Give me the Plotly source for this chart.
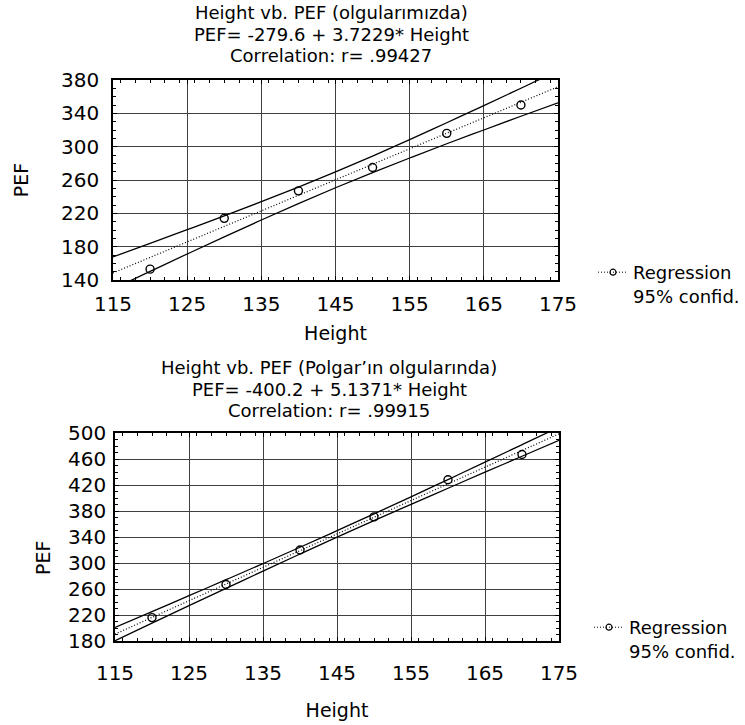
import plotly.graph_objects as go

# ---- data ----
height = [120, 130, 140, 150, 160, 170]
pef_ours = [153, 214, 247, 275, 316, 350]
pef_polgar = [216, 267, 320, 371, 428, 467]

band_x = [115, 120, 125, 130, 135, 140, 145, 150, 155, 160, 165, 170, 175]
fit_ours = [148.5, 167.2, 185.8, 204.4, 223.0, 241.6, 260.2, 278.8, 297.4, 316.1, 334.6, 353.3, 371.9]
upper_ours = [167.7, 184.0, 200.4, 217.0, 234.0, 251.5, 269.7, 288.7, 308.4, 328.7, 349.2, 370.1, 391.1]
lower_ours = [129.3, 150.3, 171.2, 191.8, 212.0, 231.7, 250.7, 268.9, 286.4, 303.5, 320.0, 336.5, 352.7]

fit_polgar = [190.6, 216.3, 242.0, 267.6, 293.3, 319.0, 344.7, 370.4, 396.0, 421.7, 447.4, 473.1, 498.8]
upper_polgar = [200.8, 225.2, 249.7, 274.3, 299.1, 324.2, 349.7, 375.6, 401.8, 428.4, 455.1, 482.0, 509.0]
lower_polgar = [180.4, 207.4, 234.3, 260.9, 287.5, 313.8, 339.7, 365.2, 390.2, 415.0, 439.7, 464.2, 488.6]

titles_top = ["Height vb. PEF (olgularımızda)", "PEF= -279.6 + 3.7229* Height", "Correlation: r= .99427"]
titles_bot = ["Height vb. PEF (Polgar\u2019ın olgularında)", "PEF= -400.2 + 5.1371* Height", "Correlation: r= .99915"]
legend_label = "Regression<br>95% confid."

W, H = 745, 725
FONT = "DejaVu Sans"


def px(x):
    return x / W


def py(y):
    return 1 - y / H


fig = go.Figure()


def add_panel(xa, ya, fit, up, lo, yvals, legend_id):
    fig.add_trace(go.Scatter(x=band_x, y=up, mode="lines", line=dict(color="black", width=1.3, shape="spline"),
                             xaxis=xa, yaxis=ya, showlegend=False, hoverinfo="skip"))
    fig.add_trace(go.Scatter(x=band_x, y=lo, mode="lines", line=dict(color="black", width=1.3, shape="spline"),
                             xaxis=xa, yaxis=ya, showlegend=False, hoverinfo="skip"))
    fig.add_trace(go.Scatter(x=band_x, y=fit, mode="lines", line=dict(color="black", width=1.2, dash="1px,2px"),
                             xaxis=xa, yaxis=ya, showlegend=False))
    fig.add_trace(go.Scatter(x=height, y=yvals, mode="markers",
                             marker=dict(symbol="circle-open", size=8, color="black", line=dict(width=1.4)),
                             xaxis=xa, yaxis=ya, showlegend=False))
    fig.add_trace(go.Scatter(x=[None], y=[None], mode="lines+markers", name=legend_label,
                             line=dict(color="black", width=1, dash="1px,2px"),
                             marker=dict(symbol="circle-open", size=6, color="black", line=dict(width=1.2)),
                             xaxis=xa, yaxis=ya, legend=legend_id, showlegend=True))


add_panel("x", "y", fit_ours, upper_ours, lower_ours, pef_ours, "legend")
add_panel("x2", "y2", fit_polgar, upper_polgar, lower_polgar, pef_polgar, "legend2")


def axis_common():
    return dict(showline=True, linecolor="black", linewidth=1.6, mirror="ticks",
                ticks="inside", ticklen=4, tickcolor="black", showgrid=True,
                gridcolor="#404040", gridwidth=1, zeroline=False, automargin=False,
                tickfont=dict(size=20, color="black", family=FONT))


xa1 = axis_common()
xa1.update(domain=[px(113), px(558)], anchor="y", range=[115, 175], tick0=115, dtick=10,
           minor=dict(ticks="inside", ticklen=3, tickcolor="black", dtick=2, showgrid=False),
           ticklabelstandoff=5,
           title=dict(text="Height", font=dict(size=19, color="black", family=FONT), standoff=12))
ya1 = axis_common()
ya1.update(domain=[py(280), py(80)], anchor="x", range=[140, 380], tick0=140, dtick=40,
           minor=dict(ticks="inside", ticklen=3, tickcolor="black", dtick=10, showgrid=False),
           ticklabelstandoff=8,
           title=dict(text="PEF", font=dict(size=19, color="black", family=FONT), standoff=27))
xa2 = axis_common()
xa2.update(domain=[px(115), px(559)], anchor="y2", range=[115, 175], tick0=115, dtick=10,
           minor=dict(ticks="inside", ticklen=3, tickcolor="black", dtick=2, showgrid=False),
           ticklabelstandoff=13,
           title=dict(text="Height", font=dict(size=19, color="black", family=FONT), standoff=20))
ya2 = axis_common()
ya2.update(domain=[py(641), py(433)], anchor="x2", range=[180, 500], tick0=180, dtick=40,
           minor=dict(ticks="inside", ticklen=3, tickcolor="black", dtick=10, showgrid=False),
           ticklabelstandoff=3)

annotations = []
for t, yy in zip(titles_top, [13, 34, 55]):
    annotations.append(dict(text=t, x=px(331), y=py(yy), xref="paper", yref="paper",
                            xanchor="center", yanchor="middle", showarrow=False,
                            font=dict(size=18, color="black", family=FONT)))
for t, yy in zip(titles_bot, [367, 389, 411]):
    annotations.append(dict(text=t, x=px(329), y=py(yy), xref="paper", yref="paper",
                            xanchor="center", yanchor="middle", showarrow=False,
                            font=dict(size=18, color="black", family=FONT)))
# lower panel y-axis title (sits below the panel's vertical centre in the reference)
annotations.append(dict(text="PEF", x=px(43), y=py(558), xref="paper", yref="paper",
                        xanchor="center", yanchor="middle", showarrow=False, textangle=-90,
                        font=dict(size=19, color="black", family=FONT)))

leg_common = dict(xanchor="left", yanchor="top", font=dict(size=18, color="black", family=FONT),
                  bgcolor="rgba(0,0,0,0)", borderwidth=0, valign="top", itemwidth=30)

fig.update_layout(
    width=W, height=H,
    margin=dict(l=0, r=0, t=0, b=0),
    paper_bgcolor="white", plot_bgcolor="white",
    font=dict(family=FONT, color="black"),
    xaxis=xa1, yaxis=ya1, xaxis2=xa2, yaxis2=ya2,
    annotations=annotations,
    legend=dict(x=px(593), y=py(254), **leg_common),
    legend2=dict(x=px(589), y=py(609), **leg_common),
)

fig.write_html("out.html", config={"displayModeBar": False},
               post_script="document.body.style.margin='0px';")
